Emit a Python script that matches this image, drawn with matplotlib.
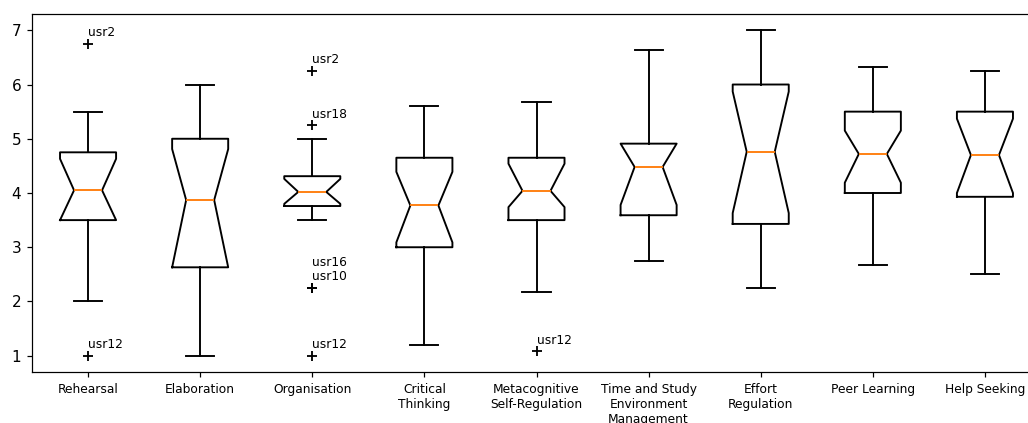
import matplotlib
matplotlib.use("Agg")
import matplotlib.pyplot as plt

# Kategorien (Skalen)
categories = ["Rehearsal", "Elaboration", "Organisation", "Critical\nThinking",
              "Metacognitive\nSelf-Regulation", "Time and Study\nEnvironment\nManagement",
              "Effort\nRegulation", "Peer Learning", "Help Seeking"]

# Kennwerte der Boxplots
medians = [4.05, 3.87, 4.02, 3.77, 4.04, 4.48, 4.76, 4.72, 4.70]
q1 = [3.50, 2.63, 3.76, 3.00, 3.50, 3.59, 3.43, 4.00, 3.93]
q3 = [4.75, 5.00, 4.31, 4.65, 4.65, 4.91, 6.00, 5.50, 5.50]
ci_low = [3.50, 2.63, 3.80, 3.09, 3.74, 3.78, 3.63, 4.19, 4.00]
ci_high = [4.63, 4.81, 4.26, 4.39, 4.54, 4.91, 5.87, 5.15, 5.37]
whisker_low = [2.00, 1.00, 3.50, 1.20, 2.17, 2.75, 2.25, 2.67, 2.50]
whisker_high = [5.50, 6.00, 5.00, 5.60, 5.67, 6.63, 7.00, 6.33, 6.25]

# Ausreißer mit Nutzerkennung
fliers = [[6.75, 1.00], [], [6.25, 5.25, 2.25, 2.25, 1.00], [], [1.08], [], [], [], []]
flier_users = [["usr2", "usr12"], [], ["usr2", "usr18", "usr10", "usr16", "usr12"],
               [], ["usr12"], [], [], [], []]

stats = []
for i in range(len(categories)):
    stats.append({
        "med": medians[i], "q1": q1[i], "q3": q3[i],
        "cilo": ci_low[i], "cihi": ci_high[i],
        "whislo": whisker_low[i], "whishi": whisker_high[i],
        "fliers": fliers[i], "label": categories[i],
    })

fig = plt.figure(figsize=(1028 / 110, 423 / 110), dpi=110)
ax = fig.add_axes([32 / 1028, 51 / 423, 1009 / 1028, 358 / 423])

lw = 1.25
ax.bxp(stats, shownotches=True,
       boxprops=dict(linewidth=lw), whiskerprops=dict(linewidth=lw),
       capprops=dict(linewidth=lw), medianprops=dict(linewidth=lw, color="#ff7f0e"),
       flierprops=dict(marker="+", markeredgecolor="black", markersize=7, markeredgewidth=1.2))

# Ausreißer beschriften, gleiche Werte übereinander stapeln
for i, (vals, users) in enumerate(zip(fliers, flier_users)):
    seen = {}
    for v, u in zip(vals, users):
        k = seen.get(v, 0)
        seen[v] = k + 1
        ax.annotate(u, (i + 1, v), xytext=(0, 5 + 9.2 * k), textcoords="offset points",
                    fontsize=8, ha="left", va="baseline")

ax.tick_params(axis="x", labelsize=8)
ax.tick_params(axis="y", labelsize=10)

fig.savefig("out.png", dpi=110)
